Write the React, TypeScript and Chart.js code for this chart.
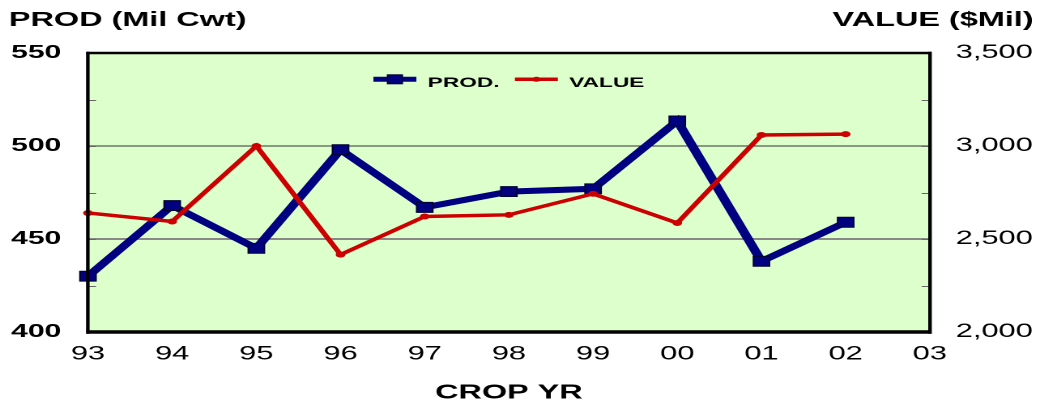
import React, { useEffect, useRef } from 'react';
import { Chart, registerables } from 'chart.js';

Chart.register(...registerables);

// ---- data ----
const years = ['93', '94', '95', '96', '97', '98', '99', '00', '01', '02', '03'];
const prodValues = [430, 468, 445, 498, 467, 475.5, 477, 513.5, 438, 459, null];
const valueValues = [2640, 2594, 3000, 2416, 2621, 2630, 2743, 2586, 3059, 3064, null];
const prodTicks = [400, 450, 500, 550];
const valueTicks = [2000, 2500, 3000, 3500];
const prodLabel = 'PROD.';
const valueLabel = 'VALUE';
const prodAxisTitle = 'PROD (Mil Cwt)';
const valueAxisTitle = 'VALUE ($Mil)';
const xAxisTitle = 'CROP YR';

// ---- look ----
const STRETCH = 1.62; // the reference is horizontally stretched
const VIEW_W = 1040;
const VIEW_H = 405;
const W = Math.round(VIEW_W / STRETCH);
const PLOT_LEFT = 54.3;
const RIGHT_W = W - 574;
const FONT = '"Liberation Sans", Arial, Helvetica, sans-serif';
const NAVY = '#000080';
const RED = '#CC0000';
const BG = '#DDFFCC';

const decorPlugin = {
  id: 'decor',
  beforeDraw(chart: any) {
    const { ctx, chartArea: a } = chart;
    ctx.save();
    ctx.fillStyle = BG;
    ctx.fillRect(a.left, a.top, a.right - a.left, a.bottom - a.top);
    ctx.restore();
  },
  afterDraw(chart: any) {
    const { ctx, chartArea: a, scales } = chart;
    ctx.save();
    // inner minor tick marks
    ctx.strokeStyle = '#666666';
    ctx.lineWidth = 1;
    const yl = scales.yProd;
    const yr = scales.yValue;
    for (const t of yl.ticks) {
      if (t.value <= yl.min || t.value >= yl.max) continue;
      const y = Math.round(yl.getPixelForValue(t.value)) + 0.5;
      ctx.beginPath();
      ctx.moveTo(a.left, y);
      ctx.lineTo(a.left + 5, y);
      ctx.stroke();
    }
    for (const t of yr.ticks) {
      if (t.value <= yr.min || t.value >= yr.max) continue;
      const y = Math.round(yr.getPixelForValue(t.value)) + 0.5;
      ctx.beginPath();
      ctx.moveTo(a.right, y);
      ctx.lineTo(a.right - 5, y);
      ctx.stroke();
    }
    // plot frame
    ctx.fillStyle = '#000';
    const w = a.right - a.left;
    const h = a.bottom - a.top;
    ctx.fillRect(a.left - 1, a.top - 1.25, w + 2, 2.5);
    ctx.fillRect(a.left - 1, a.bottom - 1.75, w + 2, 3.5);
    ctx.fillRect(a.left - 1.2, a.top - 1.25, 2.2, h + 3);
    ctx.fillRect(a.right - 1, a.top - 1.25, 2.2, h + 3);

    // axis titles on top
    ctx.font = `bold 20px ${FONT}`;
    ctx.textBaseline = 'alphabetic';
    ctx.textAlign = 'left';
    ctx.fillText(prodAxisTitle, 5.5, 26);
    ctx.textAlign = 'right';
    ctx.fillText(valueAxisTitle, chart.width - 4, 26);

    // legend inside the plot
    ctx.font = `bold 14px ${FONT}`;
    const boxW = 26.5;
    const gapText = 7;
    const gapItem = 9.5;
    const wProd = ctx.measureText(prodLabel).width;
    const wVal = ctx.measureText(valueLabel).width;
    const total = boxW + gapText + wProd + gapItem + boxW + gapText + wVal;
    let x = (a.left + a.right) / 2 - total / 2;
    const ly = a.top + 26.3;
    ctx.textAlign = 'left';
    ctx.lineCap = 'butt';
    // PROD
    ctx.strokeStyle = NAVY;
    ctx.lineWidth = 5;
    ctx.beginPath();
    ctx.moveTo(x, ly);
    ctx.lineTo(x + boxW, ly);
    ctx.stroke();
    ctx.fillStyle = NAVY;
    ctx.fillRect(x + boxW / 2 - 4.5, ly - 4.5, 9, 9);
    ctx.strokeStyle = '#000030';
    ctx.lineWidth = 1;
    ctx.strokeRect(x + boxW / 2 - 4.5, ly - 4.5, 9, 9);
    x += boxW + gapText;
    ctx.fillStyle = '#000';
    ctx.fillText(prodLabel, x, ly + 7.7);
    x += wProd + gapItem;
    // VALUE
    ctx.strokeStyle = RED;
    ctx.lineWidth = 3.5;
    ctx.beginPath();
    ctx.moveTo(x, ly);
    ctx.lineTo(x + boxW, ly);
    ctx.stroke();
    ctx.fillStyle = RED;
    ctx.beginPath();
    ctx.arc(x + boxW / 2, ly, 2.5, 0, Math.PI * 2);
    ctx.fill();
    x += boxW + gapText;
    ctx.fillStyle = '#000';
    ctx.fillText(valueLabel, x, ly + 7.7);
    ctx.restore();
  },
};

export default function App() {
  const ref = useRef<HTMLCanvasElement>(null);
  useEffect(() => {
    document.body.style.margin = '0';
    const canvas = ref.current;
    if (!canvas) return;
    const chart = new Chart(canvas, {
      type: 'line',
      data: {
        labels: years,
        datasets: [
          {
            label: prodLabel,
            data: prodValues,
            yAxisID: 'yProd',
            borderColor: NAVY,
            backgroundColor: NAVY,
            borderWidth: 6,
            pointStyle: 'rect',
            pointRadius: 7,
            pointBackgroundColor: NAVY,
            pointBorderColor: '#000030',
            pointBorderWidth: 1,
            tension: 0,
            order: 1,
          },
          {
            label: valueLabel,
            data: valueValues,
            yAxisID: 'yValue',
            borderColor: RED,
            backgroundColor: RED,
            borderWidth: 3.5,
            pointStyle: 'circle',
            pointRadius: 2.5,
            pointBackgroundColor: RED,
            pointBorderColor: RED,
            pointBorderWidth: 1,
            tension: 0,
            order: 0,
          },
        ],
      },
      options: {
        responsive: false,
        animation: false,
        devicePixelRatio: 2,
        events: [],
        layout: { padding: { top: 53, left: 0, right: 0, bottom: 0 } },
        plugins: { legend: { display: false }, tooltip: { enabled: false } },
        scales: {
          x: {
            type: 'category',
            offset: false,
            grid: { display: false, drawTicks: false },
            border: { display: false },
            ticks: {
              color: '#000',
              font: { family: FONT, size: 19 },
              padding: 11,
              autoSkip: false,
              maxRotation: 0,
            },
            title: {
              display: true,
              text: xAxisTitle,
              color: '#000',
              font: { family: FONT, size: 20, weight: 'bold' },
              padding: { top: 0, bottom: 0 },
            },
            afterFit: (s: any) => {
              s.height = 73;
            },
          },
          yProd: {
            position: 'left',
            min: 400,
            max: 550,
            ticks: {
              stepSize: 25,
              autoSkip: false,
              callback: (v: any) => (prodTicks.includes(Number(v)) ? String(v) : ''),
              color: '#000',
              font: { family: FONT, size: 18.5, weight: 'bold' },
              padding: 16.5,
              crossAlign: 'near',
            },
            grid: {
              drawTicks: false,
              color: (c: any) =>
                c.tick && c.tick.value === 500 ? '#333333' : c.tick && c.tick.value === 450 ? '#888888' : 'rgba(0,0,0,0)',
              lineWidth: (c: any) => (c.tick && c.tick.value === 450 ? 2 : 1),
            },
            border: { display: false },
            afterFit: (s: any) => {
              s.width = PLOT_LEFT;
            },
          },
          yValue: {
            position: 'right',
            min: 2000,
            max: 3500,
            ticks: {
              stepSize: 250,
              autoSkip: false,
              callback: (v: any) => (valueTicks.includes(Number(v)) ? Number(v).toLocaleString('en-US') : ''),
              color: '#000',
              font: { family: FONT, size: 19 },
              padding: 16,
            },
            grid: { drawOnChartArea: false, drawTicks: false },
            border: { display: false },
            afterFit: (s: any) => {
              s.width = RIGHT_W;
            },
          },
        },
      } as any,
      plugins: [decorPlugin],
    });
    return () => chart.destroy();
  }, []);
  return (
    <canvas
      ref={ref}
      width={W}
      height={VIEW_H}
      style={{ display: 'block', width: VIEW_W + 'px', height: VIEW_H + 'px' }}
    />
  );
}
